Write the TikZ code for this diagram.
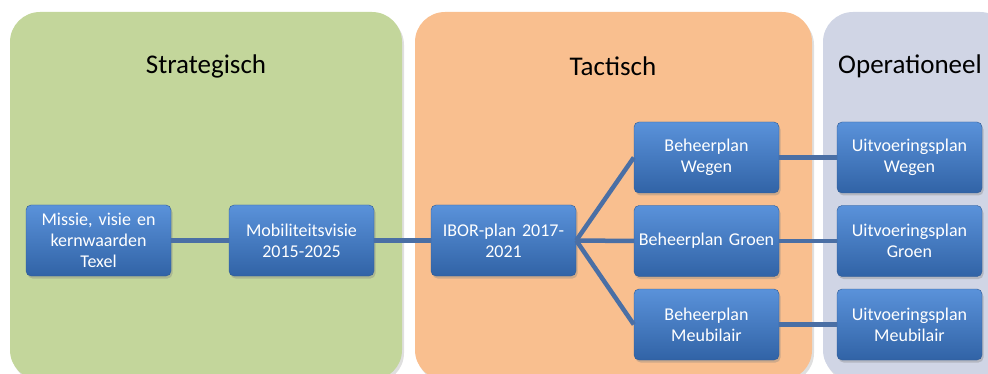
\documentclass[tikz,border=0pt]{standalone}
\usepackage{fontspec}
\setmainfont{Carlito}
\usetikzlibrary{shadows}

\definecolor{groenvlak}{HTML}{C3D69B}
\definecolor{oranjevlak}{HTML}{F9BF8F}
\definecolor{grijsvlak}{HTML}{D0D5E5}
\definecolor{blokboven}{HTML}{5A92DA}
\definecolor{blokonder}{HTML}{3163A6}
\definecolor{blokrand}{HTML}{2F5B95}
\definecolor{lijnkleur}{HTML}{4A6FA5}

\begin{document}
\begin{tikzpicture}[x=1pt, y=-1pt,
  vlak/.style={rounded corners=30pt, drop shadow={opacity=0.25, shadow xshift=2pt, shadow yshift=-3pt}},
  titel/.style={font=\fontsize{27}{32}\selectfont},
  blok/.style={draw=blokrand, rounded corners=5pt, top color=blokboven, bottom color=blokonder,
    text=white, text width=143pt, inner sep=1pt, minimum height=71pt, align=center,
    font=\fontsize{18}{21}\selectfont,
    drop shadow={opacity=0.35, shadow xshift=1.5pt, shadow yshift=-2.5pt}},
  lijn/.style={draw=lijnkleur, line width=4.5pt}]
  \clip (0,0) rectangle (988,374);
  \useasboundingbox (0,0) rectangle (988,374);

  % vlakken
  \fill[groenvlak, vlak] (10,12) rectangle (402,380);
  \fill[oranjevlak, vlak] (415,12) rectangle (812,380);
  \fill[grijsvlak, vlak] (823,12) rectangle (1010,380);

  \node[titel] (S) at (206,66) {Strategisch};
  \node[titel] (T) at (613,66) {Tactisch};
  \node[titel] (O) at (910,66) {Operationeel};

  % blokken
  \node[blok] (A) at (98.5,240.5) {Missie, visie en\\kernwaarden\\Texel};
  \node[blok] (B) at (301.5,240.5) {Mobiliteitsvisie\\2015-2025};
  \node[blok] (C) at (503.5,240.5) {IBOR-plan 2017-\\2021};

  \node[blok] (D) at (706.5,157.5) {Beheerplan\\Wegen};
  \node[blok] (E) at (706.5,241) {Beheerplan Groen};
  \node[blok] (F) at (706.5,324.5) {Beheerplan\\Meubilair};

  \node[blok] (G) at (909.5,157.5) {Uitvoeringsplan\\Wegen};
  \node[blok] (H) at (909.5,241) {Uitvoeringsplan\\Groen};
  \node[blok] (I) at (909.5,324.5) {Uitvoeringsplan\\Meubilair};

  % verbindingen
  \draw[lijn] (A.east) -- (B.west);
  \draw[lijn] (B.east) -- (C.west);
  \draw[lijn] (C.east) -- (D.west);
  \draw[lijn] (C.east) -- (E.west);
  \draw[lijn] (C.east) -- (F.west);
  \draw[lijn] (D.east) -- (G.west);
  \draw[lijn] (E.east) -- (H.west);
  \draw[lijn] (F.east) -- (I.west);
\end{tikzpicture}
\end{document}
